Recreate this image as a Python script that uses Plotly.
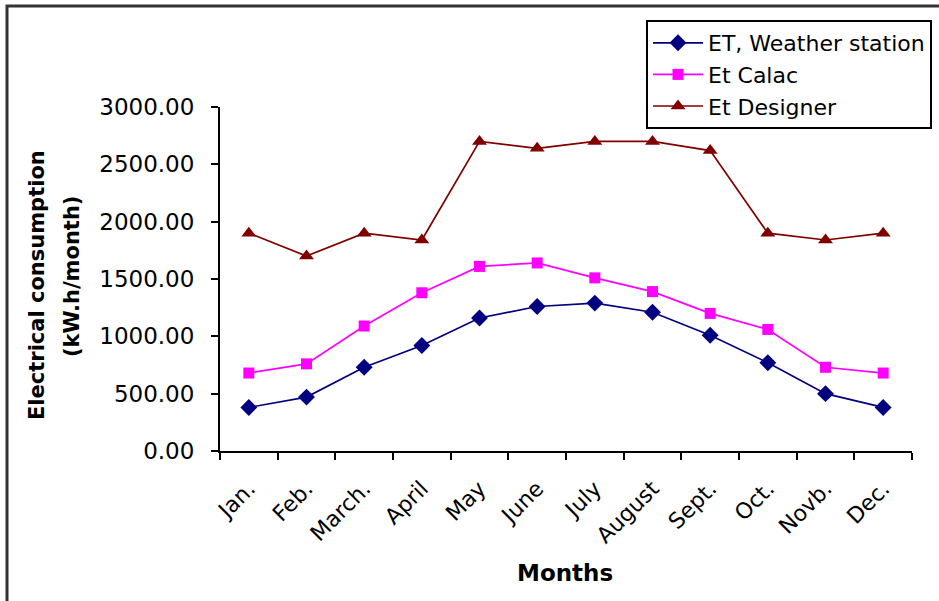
import plotly.graph_objects as go

# Monthly electrical consumption (kW.h/month)
months = ["Jan.", "Feb.", "March.", "April", "May", "June", "July",
          "August", "Sept.", "Oct.", "Novb.", "Dec."]
et_weather_station = [380, 470, 730, 920, 1160, 1260, 1290, 1210, 1010, 770, 500, 380]
et_calac = [680, 760, 1090, 1380, 1610, 1640, 1510, 1390, 1200, 1060, 730, 680]
et_designer = [1900, 1700, 1900, 1840, 2700, 2640, 2700, 2700, 2620, 1900, 1840, 1900]

series_names = ["ET, Weather station", "Et Calac", "Et Designer"]

W, H = 939, 601
L, R, T, B = 220, 27, 107, 150
PW, PH = W - L - R, H - T - B


def px_x(p):
    return (p - L) / PW


def px_y(p):
    return (H - B - p) / PH


FONT = "DejaVu Sans"

fig = go.Figure()
fig.add_trace(go.Scatter(
    x=months, y=et_weather_station, name=series_names[0], mode="lines+markers",
    line=dict(color="#000080", width=1.7),
    marker=dict(symbol="diamond", size=13, color="#000080"),
))
fig.add_trace(go.Scatter(
    x=months, y=et_calac, name=series_names[1], mode="lines+markers",
    line=dict(color="#FF00FF", width=1.7),
    marker=dict(symbol="square", size=11, color="#FF00FF"),
))
fig.add_trace(go.Scatter(
    x=months, y=et_designer, name=series_names[2], mode="lines+markers",
    line=dict(color="#800000", width=1.7),
    marker=dict(symbol="triangle-up", size=13, color="#800000"),
))

fig.update_layout(
    width=W, height=H,
    margin=dict(l=L, r=R, t=T, b=B, autoexpand=False),
    paper_bgcolor="white", plot_bgcolor="white",
    font=dict(family=FONT, size=21, color="black"),
    legend=dict(
        x=px_x(646), y=px_y(20), xanchor="left", yanchor="top",
        bgcolor="white", bordercolor="black", borderwidth=2,
        font=dict(family=FONT, size=22, color="black"),
        itemwidth=50, tracegroupgap=0,
    ),
    xaxis=dict(
        type="category", range=[-0.5, 11.5],
        showline=True, linecolor="black", linewidth=2,
        ticks="outside", ticklen=7, tickwidth=2, tickcolor="black",
        tickson="boundaries", tickangle=-45,
        tickfont=dict(family=FONT, size=22, color="black"),
        ticklabelstandoff=14,
        showgrid=False, zeroline=False,
    ),
    yaxis=dict(
        range=[0, 3000], dtick=500, tickformat=".2f",
        showline=True, linecolor="black", linewidth=2,
        ticks="outside", ticklen=7, tickwidth=2, tickcolor="black",
        tickfont=dict(family=FONT, size=23, color="black"),
        ticklabelstandoff=12,
        showgrid=False, zeroline=False,
    ),
    shapes=[
        # outer chart frame (left and top edges visible)
        dict(type="rect", xref="paper", yref="paper",
             x0=px_x(7), x1=px_x(960), y0=px_y(620), y1=px_y(6),
             line=dict(color="#333333", width=3), fillcolor="rgba(0,0,0,0)",
             layer="below"),
    ],
    annotations=[
        dict(text="<b>Electrical consumption</b>", textangle=-90,
             xref="paper", yref="paper", x=px_x(37), y=px_y(285),
             xanchor="center", yanchor="middle", showarrow=False,
             font=dict(family=FONT, size=21, color="black")),
        dict(text="<b>(kW.h/month)</b>", textangle=-90,
             xref="paper", yref="paper", x=px_x(72), y=px_y(277),
             xanchor="center", yanchor="middle", showarrow=False,
             font=dict(family=FONT, size=21, color="black")),
        dict(text="<b>Months</b>",
             xref="paper", yref="paper", x=px_x(565), y=px_y(573),
             xanchor="center", yanchor="middle", showarrow=False,
             font=dict(family=FONT, size=23, color="black")),
    ],
)

fig.write_html("out.html")
